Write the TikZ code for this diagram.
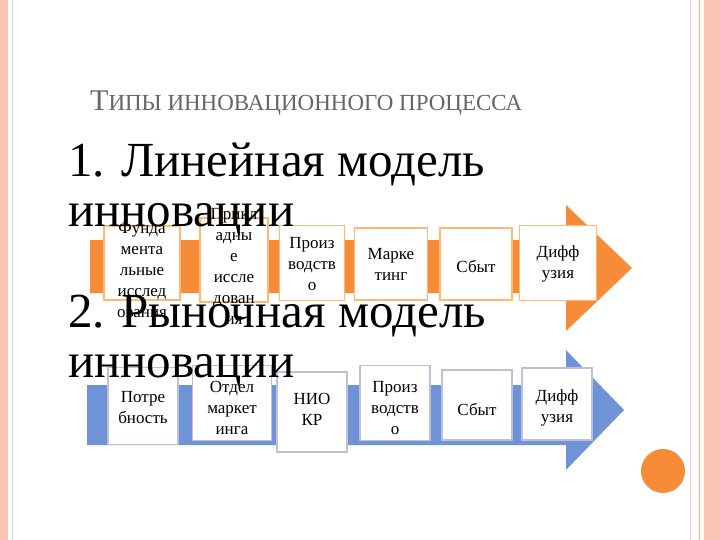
\documentclass[tikz,border=0pt]{standalone}
\usepackage{fontspec}
\setmainfont{Liberation Serif}
\begin{document}
\begin{tikzpicture}[x=1pt,y=-1pt,
  ob/.style={draw=orange!55!white,line width=1.6pt,fill=white},
  bb/.style={draw=blue!25!gray!40,line width=1.6pt,fill=white},
  bt/.style={font=\fontsize{17}{21}\selectfont,align=center,inner sep=0pt},
  big/.style={font=\fontsize{49}{49}\selectfont,anchor=base west,inner sep=0pt}]
\definecolor{org}{HTML}{F68B38}
\definecolor{blu}{HTML}{6E93D6}
\definecolor{pnk}{HTML}{F9C4B0}
\useasboundingbox (0,0) rectangle (720,540);
\fill[white] (0,0) rectangle (720,540);
% frame
\fill[pnk] (0,0) rectangle (8,540);
\draw[pnk!80,line width=1pt] (12,0) -- (12,540);
\draw[pnk!80,line width=1pt] (690,0) -- (690,540);
\draw[org!70,line width=1pt] (699,0) -- (699,540);
\fill[pnk] (704,0) rectangle (720,540);
\node[circle,fill=org,minimum size=44pt,inner sep=0pt] (dot) at (663,471) {};
% title
\node[anchor=base west,inner sep=0pt,text=gray!80!black] (title) at (90,111)
 {\fontsize{30}{30}\selectfont Т\fontsize{23}{23}\selectfont ИПЫ ИННОВАЦИОННОГО ПРОЦЕССА};
% orange arrow
\fill[org] (90,240) -- (566,240) -- (566,205) -- (632,268) -- (566,331) -- (566,293) -- (90,293) -- cycle;
\node[ob,minimum width=76,minimum height=74,inner sep=0] (a1) at (142,263) {};
\node[ob,minimum width=68,minimum height=84,inner sep=0] (a2) at (234,260) {};
\node[ob,minimum width=65,minimum height=75,inner sep=0] (a3) at (312,263) {};
\node[ob,minimum width=73,minimum height=72,inner sep=0] (a4) at (391,264) {};
\node[ob,minimum width=72,minimum height=72,inner sep=0] (a5) at (476,264) {};
\node[ob,minimum width=77,minimum height=75,inner sep=0] (a6) at (558,263) {};
\node[bt] (t1) at (142,270) {Фунда\\мента\\льные\\исслед\\ования};
\node[bt] (t2) at (234,266) {Прикл\\адны\\е\\иссле\\дован\\ия};
\node[bt] (t3) at (312,264) {Произ\\водств\\о};
\node[bt] (t4) at (391,264) {Марке\\тинг};
\node[bt] (t5) at (476,266) {Сбыт};
\node[bt] (t6) at (558,264) {Дифф\\узия};
% blue arrow
\fill[blu] (87,385) -- (566,385) -- (566,350) -- (624,410) -- (566,470) -- (566,445) -- (87,445) -- cycle;
\node[bb,minimum width=70,minimum height=77,inner sep=0] (b1) at (143,406) {};
\node[bb,minimum width=79,minimum height=75,inner sep=0] (b2) at (232,403) {};
\node[bb,minimum width=70,minimum height=80,inner sep=0] (b3) at (312,412) {};
\node[bb,minimum width=70,minimum height=75,inner sep=0] (b4) at (395,403) {};
\node[bb,minimum width=70,minimum height=70,inner sep=0] (b5) at (477,405) {};
\node[bb,minimum width=70,minimum height=72,inner sep=0] (b6) at (557,404) {};
\node[bt] (u1) at (143,408) {Потре\\бность};
\node[bt] (u2) at (232,408) {Отдел\\маркет\\инга};
\node[bt] (u3) at (312,409) {НИО\\КР};
\node[bt] (u4) at (395,408) {Произ\\водств\\о};
\node[bt] (u5) at (477,409) {Сбыт};
\node[bt] (u6) at (557,408) {Дифф\\узия};
% big text
\node[big] (h1) at (68,177) {1. Линейная модель};
\node[big] (h2) at (68,226) {инновации};
\node[big] (h3) at (68,327) {2. Рыночная модель};
\node[big] (h4) at (68,377) {инновации};
\end{tikzpicture}
\end{document}
